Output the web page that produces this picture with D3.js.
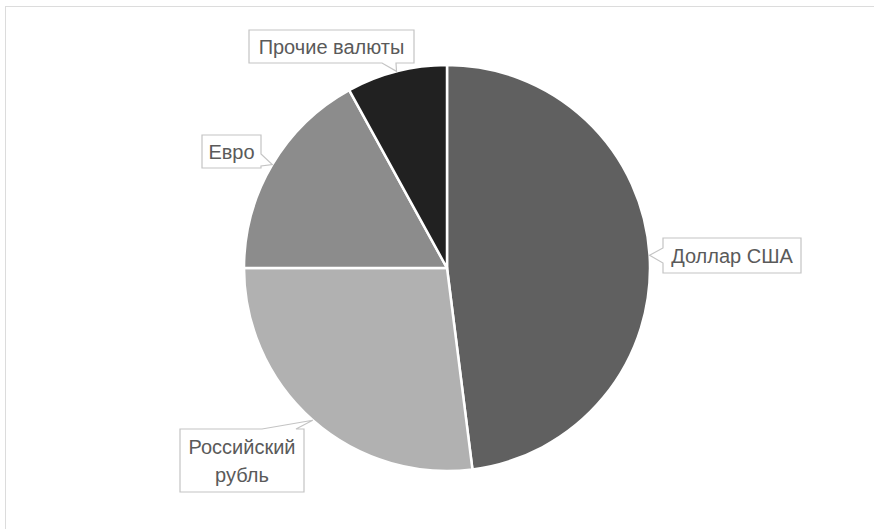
<!DOCTYPE html>
<html>
<head>
<meta charset="utf-8">
<script src="https://cdn.jsdelivr.net/npm/d3@7"></script>
<style>
  html, body { margin: 0; padding: 0; background: #fff; }
  svg { display: block; }
</style>
</head>
<body>
<svg id="chart" width="874" height="529"></svg>
<script>
// ---- data ----
const categories = ["Доллар США", "Российский рубль", "Евро", "Прочие валюты"];
const values = [48, 27, 17, 8];
const colors = ["#606060", "#b1b1b1", "#8c8c8c", "#212121"];
const labelLines = [["Доллар США"], ["Российский", "рубль"], ["Евро"], ["Прочие валюты"]];

// ---- layout ----
const W = 874, H = 529;
const cx = 447, cy = 268, R = 203;
const svg = d3.select("#chart");

// outer frame
svg.append("rect")
  .attr("x", 5.5).attr("y", 6.5)
  .attr("width", W + 10).attr("height", H + 10)
  .attr("fill", "none").attr("stroke", "#dcdcdc").attr("stroke-width", 1);

const data = categories.map((c, i) => ({ name: c, value: values[i], color: colors[i], lines: labelLines[i] }));
const pie = d3.pie().sort(null).value(d => d.value);
const arcs = pie(data);
const arc = d3.arc().innerRadius(0).outerRadius(R);
const edgeArc = d3.arc().innerRadius(R).outerRadius(R);

const g = svg.append("g").attr("transform", `translate(${cx},${cy})`);
g.selectAll("path.slice").data(arcs).enter().append("path")
  .attr("class", "slice")
  .attr("d", arc)
  .attr("fill", d => d.data.color)
  .attr("stroke", "#ffffff")
  .attr("stroke-width", 2.5)
  .attr("stroke-linejoin", "round");

// callout boxes: box geometry and wedge spec (side, base start, base end)
const boxes = [
  { x0: 663, y0: 238, x1: 801, y1: 273, side: "left", a: 248, b: 263 },
  { x0: 180, y0: 429, x1: 304, y1: 492, side: "top", a: 262, b: 296 },
  { x0: 202, y0: 135, x1: 261, y1: 168, side: "right", a: 154, b: 166 },
  { x0: 249, y0: 30, x1: 414, y1: 63, side: "bottom", a: 382, b: 396 }
];

function calloutPath(bx, tip) {
  const { x0, y0, x1, y1, side, a, b } = bx;
  const p = d3.path();
  p.moveTo(x0, y0);
  if (side === "top") { p.lineTo(a, y0); p.lineTo(tip[0], tip[1]); p.lineTo(b, y0); }
  p.lineTo(x1, y0);
  if (side === "right") { p.lineTo(x1, a); p.lineTo(tip[0], tip[1]); p.lineTo(x1, b); }
  p.lineTo(x1, y1);
  if (side === "bottom") { p.lineTo(b, y1); p.lineTo(tip[0], tip[1]); p.lineTo(a, y1); }
  p.lineTo(x0, y1);
  if (side === "left") { p.lineTo(x0, b); p.lineTo(tip[0], tip[1]); p.lineTo(x0, a); }
  p.closePath();
  return p.toString();
}

const labels = svg.append("g");
arcs.forEach((d, i) => {
  const c = edgeArc.centroid(d);
  const tip = [cx + c[0], cy + c[1]];
  const bx = boxes[i];
  labels.append("path")
    .attr("d", calloutPath(bx, tip))
    .attr("fill", "#ffffff")
    .attr("stroke", "#c4c4c4")
    .attr("stroke-width", 1.2)
    .attr("stroke-linejoin", "miter");
  const lines = d.data.lines;
  const midX = (bx.x0 + bx.x1) / 2;
  const midY = (bx.y0 + bx.y1) / 2;
  const lh = 28;
  const t = labels.append("text")
    .attr("x", midX)
    .attr("text-anchor", "middle")
    .attr("font-family", "'Liberation Sans', Arial, sans-serif")
    .attr("font-size", 20)
    .attr("fill", "#5a5a5a");
  lines.forEach((ln, k) => {
    t.append("tspan")
      .attr("x", midX)
      .attr("y", midY + (k - (lines.length - 1) / 2) * lh)
      .attr("dy", "0.36em")
      .text(ln);
  });
});
</script>
</body>
</html>
